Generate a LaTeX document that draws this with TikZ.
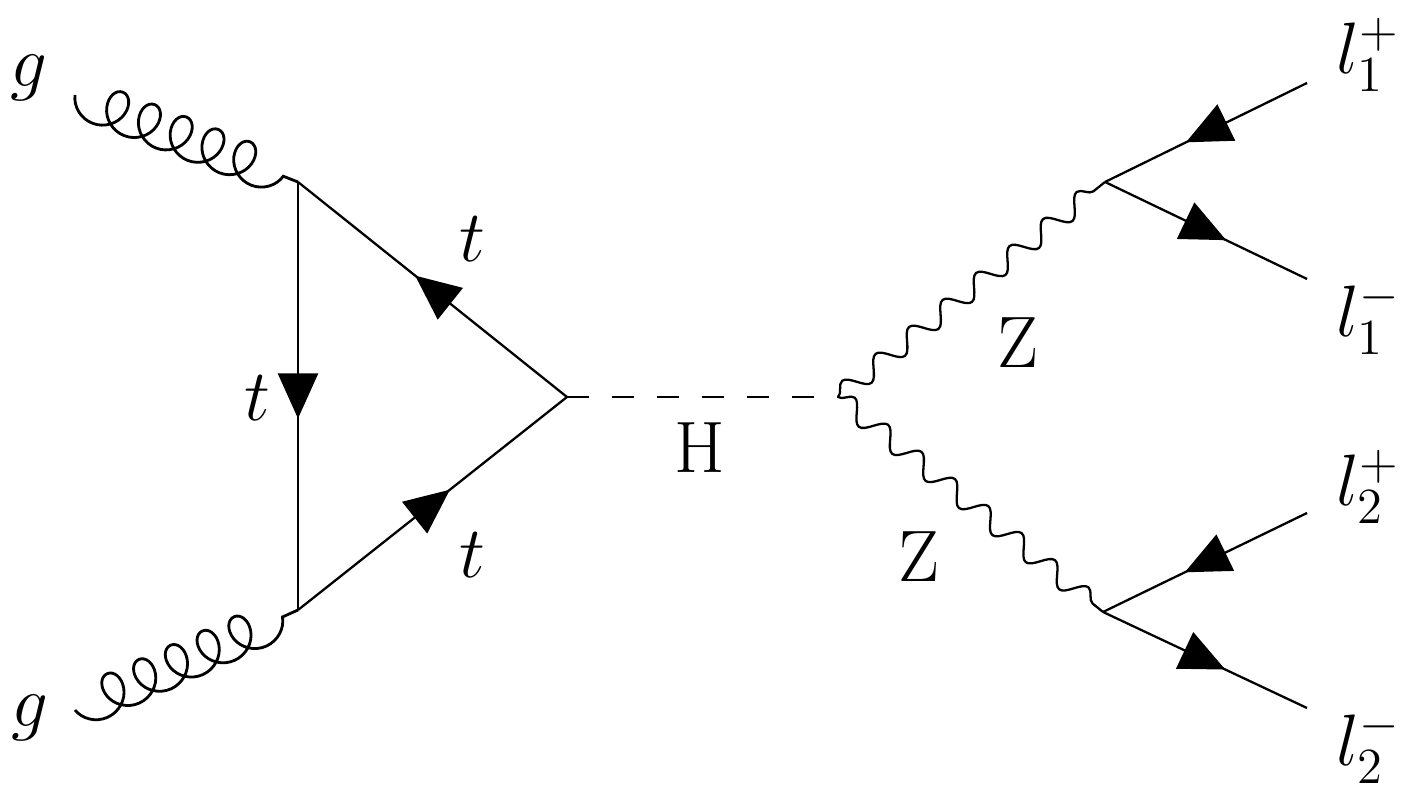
\documentclass[tikz,border=0pt]{standalone}
\usepackage{tikz}
\usetikzlibrary{arrows.meta, decorations.markings, decorations.pathmorphing}
\tikzset{
    fermion/.style={postaction={decorate}, decoration={markings, mark=at position .5 with {\arrow[xshift=.225cm]{Triangle[length=.45cm, width=.4cm]}}}},
    gluon/.style={decorate, decoration={coil, mirror, amplitude=.2cm, segment length=#1, aspect=.9}, line width=.8pt},
    gluon/.default=.341cm,
    photon/.style={decorate, decoration={snake, amplitude=.1cm, segment length=.43cm}},
    scalar/.style={dash pattern=on 6.4pt off 6.4pt},
    lbl/.style={inner sep=0pt, font=\huge}
}

\begin{document}
\begin{tikzpicture}[line width=.65pt]
  \useasboundingbox (0,0) rectangle (14.17,7.94);
  % vertices
  \coordinate(A) at (2.98,6.12);
  \coordinate(B) at (2.98,1.84);
  \coordinate(C) at (5.67,3.97);
  \coordinate(D) at (8.38,3.97);
  \coordinate(E) at (11.05,6.12);
  \coordinate(F) at (11.03,1.82);
  % free ends
  \coordinate(P) at (.75,6.99);
  \coordinate(Q) at (.75,.84);
  \coordinate(R) at (13.07,7.11);
  \coordinate(S) at (13.07,5.15);
  \coordinate(T) at (13.07,2.81);
  \coordinate(U) at (13.07,.86);
  % labels
  \node(G1)[lbl] at (.29,7.16){$g$};
  \node(G2)[lbl] at (.30,.76){$g$};
  \node(T1)[lbl] at (2.57,3.96){$t$};
  \node(T2)[lbl] at (4.72,5.55){$t$};
  \node(T3)[lbl] at (4.72,2.39){$t$};
  \node(H)[lbl] at (7.00,3.46){H};
  \node(Z1)[lbl] at (10.18,4.51){Z};
  \node(Z2)[lbl] at (9.19,2.37){Z};
  \node(L1)[lbl, anchor=west] at (13.35,7.39){$l_1^+$};
  \node(L2)[lbl, anchor=west] at (13.35,4.76){$l_1^-$};
  \node(L3)[lbl, anchor=west] at (13.35,3.07){$l_2^+$};
  \node(L4)[lbl, anchor=west] at (13.35,.47){$l_2^-$};
  % lines
  \draw[gluon](P)--(A);
  \draw[gluon=.348cm](Q)--(B);
  \draw[fermion](A)--(B);
  \draw[fermion](C)--(A);
  \draw[fermion](B)--(C);
  \draw[scalar](C)--(D);
  \draw[photon](D)--(E);
  \draw[photon](D)--(F);
  \draw[fermion](R)--(E);
  \draw[fermion](E)--(S);
  \draw[fermion](T)--(F);
  \draw[fermion](F)--(U);
\end{tikzpicture}
\end{document}
